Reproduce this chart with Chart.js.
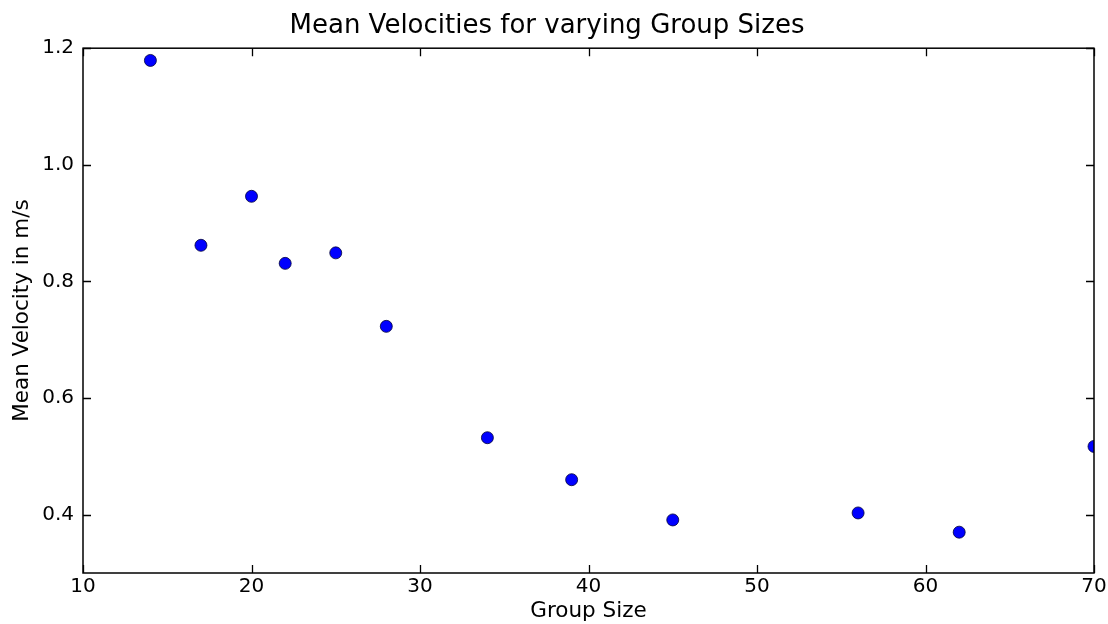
<!DOCTYPE html>
<html>
<head>
<meta charset="utf-8">
<title>Mean Velocities for varying Group Sizes</title>
<script src="https://cdn.jsdelivr.net/npm/chart.js@4/dist/chart.umd.min.js"></script>
<style>
  html, body { margin: 0; padding: 0; background: #fff; }
  #wrap { width: 1108px; height: 624px; }
</style>
</head>
<body>
<div id="wrap"><canvas id="velChart" width="1108" height="624"></canvas></div>
<script>
// group sizes and the mean velocity measured for each
var groupSizes = [14, 17, 20, 22, 25, 28, 34, 39, 45, 56, 62, 70];
var meanVelocities = [1.179, 0.862, 0.946, 0.831, 0.849, 0.723, 0.532, 0.460, 0.391, 0.403, 0.370, 0.517];

var xTicks = [10, 20, 30, 40, 50, 60, 70];
var yTicks = [0.4, 0.6, 0.8, 1.0, 1.2];

var FONT = "'DejaVu Sans', sans-serif";

// black box round the plot with inward ticks on all four sides
var frameTicks = {
    id: 'frameTicks',
    afterDatasetsDraw: function (chart) {
        var ctx = chart.ctx;
        var a = chart.chartArea;
        var xs = chart.scales.x, ys = chart.scales.y;
        var len = 8;
        ctx.save();
        ctx.strokeStyle = '#000';
        ctx.lineWidth = 1.3;
        ctx.beginPath();
        xs.ticks.forEach(function (t) {
            var px = Math.round(xs.getPixelForValue(t.value)) + 0.5;
            ctx.moveTo(px, a.bottom); ctx.lineTo(px, a.bottom - len);
            ctx.moveTo(px, a.top); ctx.lineTo(px, a.top + len);
        });
        ys.ticks.forEach(function (t) {
            var py = Math.round(ys.getPixelForValue(t.value)) + 0.5;
            ctx.moveTo(a.left, py); ctx.lineTo(a.left + len, py);
            ctx.moveTo(a.right, py); ctx.lineTo(a.right - len, py);
        });
        ctx.stroke();
        ctx.lineWidth = 1.5;
        ctx.strokeRect(a.left, a.top, a.right - a.left, a.bottom - a.top);
        ctx.restore();
    }
};

var points = groupSizes.map(function (g, i) {
    return { x: g, y: meanVelocities[i] };
});

new Chart(document.getElementById('velChart'), {
    type: 'scatter',
    data: {
        datasets: [{
            label: 'mean velocity',
            data: points,
            pointRadius: 6,
            pointHoverRadius: 6,
            pointBackgroundColor: '#0000ff',
            pointBorderColor: '#00003a',
            pointBorderWidth: 0.8
        }]
    },
    options: {
        responsive: false,
        animation: false,
        events: [],
        layout: { padding: { left: 0, right: 14, top: 0, bottom: 0 } },
        plugins: {
            legend: { display: false },
            tooltip: { enabled: false },
            title: {
                display: true,
                text: 'Mean Velocities for varying Group Sizes',
                color: '#000',
                font: { family: FONT, size: 26, weight: 'normal' },
                padding: { top: 11, bottom: 6 }
            }
        },
        scales: {
            x: {
                type: 'linear',
                min: 10,
                max: 70,
                afterBuildTicks: function (scale) {
                    scale.ticks = xTicks.map(function (v) { return { value: v }; });
                },
                afterFit: function (scale) {
                    scale.height = 51;
                    scale.paddingLeft = 0;
                    scale.paddingRight = 14;
                },
                grid: { display: false, drawTicks: false },
                border: { display: false },
                ticks: {
                    color: '#000',
                    font: { family: FONT, size: 20 },
                    padding: 2,
                    maxRotation: 0,
                    autoSkip: false
                },
                title: {
                    display: true,
                    text: 'Group Size',
                    color: '#000',
                    font: { family: FONT, size: 21.5 },
                    padding: { top: 0, bottom: 0 }
                }
            },
            y: {
                type: 'linear',
                min: 0.3,
                max: 1.2,
                afterBuildTicks: function (scale) {
                    scale.ticks = yTicks.map(function (v) { return { value: v }; });
                },
                afterFit: function (scale) {
                    scale.width = 83;
                    scale.paddingTop = 0;
                    scale.paddingBottom = 0;
                },
                grid: { display: false, drawTicks: false },
                border: { display: false },
                ticks: {
                    color: '#000',
                    font: { family: FONT, size: 20 },
                    padding: 9,
                    autoSkip: false,
                    callback: function (v) { return Number(v).toFixed(1); }
                },
                title: {
                    display: true,
                    text: 'Mean Velocity in m/s',
                    color: '#000',
                    font: { family: FONT, size: 21.5 },
                    padding: { top: 10, bottom: 0 }
                }
            }
        }
    },
    plugins: [frameTicks]
});
</script>
</body>
</html>
